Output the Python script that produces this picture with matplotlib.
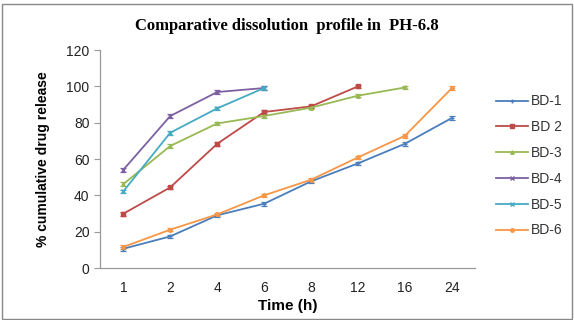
import matplotlib
matplotlib.use('Agg')
import matplotlib.pyplot as plt
from matplotlib.patches import Rectangle

# sampling times (h), shown as equally spaced categories
times = ["1", "2", "4", "6", "8", "12", "16", "24"]

bd1 = [10.6, 17.4, 29.0, 35.4, 47.7, 57.6, 68.4, 82.6]
bd2 = [29.9, 44.4, 68.4, 85.9, 89.0, 100.0]
bd3 = [46.2, 67.2, 79.6, 83.7, 88.3, 94.9, 99.4]
bd4 = [54.1, 83.7, 96.9, 99.1]
bd5 = [42.2, 74.5, 87.9, 99.1]
bd6 = [11.6, 21.1, 29.5, 40.0, 48.6, 60.9, 72.8, 99.0]

series = [
    ("BD-1", bd1, "#4A7EBB", "+"),
    ("BD 2", bd2, "#BE4B48", "s"),
    ("BD-3", bd3, "#98B954", "^"),
    ("BD-4", bd4, "#7D60A0", "x"),
    ("BD-5", bd5, "#46AAC5", "x"),
    ("BD-6", bd6, "#F79646", "o"),
]

plt.rcParams['font.family'] = ['Liberation Sans', 'DejaVu Sans']

fig = plt.figure(figsize=(5.74, 3.2), dpi=100)
ax = fig.add_axes([0.174, 0.1625, 0.654, 0.681])

for name, vals, color, mk in series:
    xs = list(range(len(vals)))
    ax.errorbar(xs, vals, yerr=1.0, color=color, lw=1.3, marker=mk, ms=2.5,
                capsize=2.5, elinewidth=0.9, capthick=0.9, label=name)

ax.set_xlim(-0.5, len(times) - 0.5)
ax.set_ylim(0, 120)
ax.set_yticks(range(0, 121, 20))
ax.set_xticks(range(len(times)))
ax.set_xticklabels(times)
ax.tick_params(axis='x', length=0, pad=9, labelsize=10, labelcolor='#222222')
ax.tick_params(axis='y', length=4, direction='out', color='#999999', labelsize=10,
               labelcolor='#222222')
for s in ['top', 'right']:
    ax.spines[s].set_visible(False)
for s in ['left', 'bottom']:
    ax.spines[s].set_color('#999999')
    ax.spines[s].set_linewidth(0.9)

ax.set_xlabel("Time (h)", fontsize=11, fontweight='bold', labelpad=3)
ax.set_ylabel("% cumulative drug release", fontsize=10, fontweight='bold', labelpad=12)
fig.text(0.5, 0.918, "Comparative dissolution  profile in  PH-6.8", ha='center', va='center',
         fontsize=12, fontweight='bold', family='Liberation Serif')

handles, labels = ax.get_legend_handles_labels()
handles = [h[0] for h in handles]
leg = fig.legend(handles, labels, loc='upper left', bbox_to_anchor=(0.864, 0.705),
                 frameon=False, fontsize=10, handlelength=2.3, labelspacing=0.85,
                 handletextpad=0.25, borderpad=0, borderaxespad=0)
for t in leg.get_texts():
    t.set_color('#333333')

fig.patches.append(Rectangle((0.003, 0.003), 0.994, 0.985, transform=fig.transFigure,
                             fill=False, edgecolor='#888888', lw=1))

fig.savefig("out.png", dpi=100)
